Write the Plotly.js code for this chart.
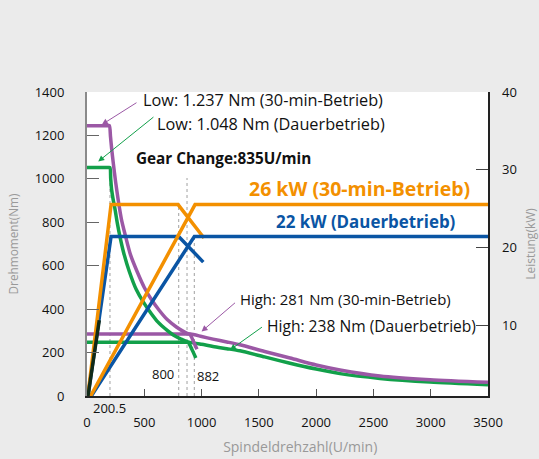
<!DOCTYPE html>
<html>
<head>
<meta charset="utf-8">
<script src="https://cdn.plot.ly/plotly-3.0.1.min.js"></script>
<style>
html,body{margin:0;padding:0;background:#ebebeb;}
#chart{width:539px;height:459px;}
</style>
</head>
<body>
<div id="chart"></div>
<script>
// ---- data ----
// Torque curves (Nm) vs spindle speed (U/min)
const lowT30X = [0, 180, 195, 205, 215, 230, 250, 273, 300, 332, 380, 440, 500, 565, 630, 700, 780, 860, 899, 930, 960];
const lowT30Y = [1245, 1245, 1245, 1195, 1140, 1070, 985, 900, 815, 745, 650, 570, 500, 442, 395, 352, 318, 292, 283, 250, 215];
const lowTdX  = [0, 185, 200, 207, 215, 230, 244, 265, 288, 320, 370, 430, 492, 560, 620, 700, 753, 820, 884, 915, 950];
const lowTdY  = [1052, 1052, 1052, 1000, 950, 900, 862, 795, 733, 660, 572, 490, 432, 380, 340, 302, 281, 262, 247, 215, 175];
const highT30X = [0, 880, 905, 1000, 1100, 1220, 1335, 1550, 1772, 2000, 2208, 2557, 2994, 3500];
const highT30Y = [285, 285, 285, 274, 262, 249, 236, 205, 175, 143, 120, 92, 75, 63];
const highTdX  = [0, 875, 900, 1000, 1100, 1220, 1335, 1550, 1772, 2000, 2208, 2557, 2994, 3500];
const highTdY  = [247, 247, 247, 238, 228, 218, 208, 180, 151, 124, 103, 81, 64, 52];
// Power curves (kW)
const lowP30X = [0, 210, 795, 1021];
const lowP30Y = [0, 25.5, 25.5, 21.2];
const lowPdX  = [0, 210, 800, 1015];
const lowPdY  = [0, 21.4, 21.4, 18.1];
const highP30X = [0, 943, 3500];
const highP30Y = [0, 25.5, 25.5];
const highPdX  = [0, 937, 3500];
const highPdY  = [0, 21.4, 21.4];
const overlapX = [0, 107];
const overlapY = [0, 10.6];
// Reference (dotted) speeds and their heights (Nm)
const refSpeeds = [200.5, 800, 873, 937];
const refTops   = [1030, 889, 1004, 732];
// Tick values
const xTicks  = [0, 500, 1000, 1500, 2000, 2500, 3000, 3500];
const yTicks  = [0, 200, 400, 600, 800, 1000, 1200, 1400];
const y2Ticks = [10, 20, 30, 40];

const PURPLE = '#9b58a5', GREEN = '#12a04a', ORANGE = '#f39000', BLUE = '#0a55a4';
const LW = 3.5;
const traces = [];
refSpeeds.forEach((s, i) => {
  traces.push({x: [s, s], y: [0, refTops[i]], mode: 'lines', yaxis: 'y',
    line: {color: '#b0b0b0', width: 1.2, dash: 'dot'}, hoverinfo: 'skip'});
});
function ln(x, y, c, ax, smooth) {
  const line = {color: c, width: LW};
  if (smooth) { line.shape = 'spline'; line.smoothing = 0.7; }
  traces.push({x: x, y: y, mode: 'lines', yaxis: ax, line: line});
}
ln(highTdX, highTdY, GREEN, 'y', true);
ln(highT30X, highT30Y, PURPLE, 'y', true);
ln(lowTdX, lowTdY, GREEN, 'y', true);
ln(lowT30X, lowT30Y, PURPLE, 'y', true);
ln(lowPdX, lowPdY, BLUE, 'y2');
ln(lowP30X, lowP30Y, ORANGE, 'y2');
ln(highPdX, highPdY, BLUE, 'y2');
ln(highP30X, highP30Y, ORANGE, 'y2');
ln(overlapX, overlapY, '#102a18', 'y2');

const F = 'Open Sans, Noto Sans, sans-serif';
function txt(t, x, y, size, color, bold, anchor) {
  return {text: bold ? '<b>' + t + '</b>' : t, x: x, y: y, xref: 'x', yref: 'y',
    xanchor: anchor || 'left', yanchor: 'middle', showarrow: false,
    font: {family: F, size: size, color: color}};
}
function arr(x0, y0, x1, y1, color) {
  return {text: '', x: x1, y: y1, ax: x0, ay: y0, xref: 'x', yref: 'y', axref: 'x', ayref: 'y',
    showarrow: true, arrowhead: 2, arrowsize: 1.2, arrowwidth: 1, arrowcolor: color};
}
const annotations = [
  txt('Low: 1.237 Nm (30-min-Betrieb)', 471, 1363, 16.3, '#111'),
  arr(445, 1355, 130, 1250, PURPLE),
  txt('Low: 1.048 Nm (Dauerbetrieb)', 593, 1254, 16.3, '#111'),
  arr(593, 1290, 98, 1080, GREEN),
  txt('Gear Change:835U/min', 410, 1094, 15.3, '#111', true),
  txt('26 kW (30-min-Betrieb)', 1396, 954, 19.5, ORANGE, true),
  txt('22 kW (Dauerbetrieb)', 1632, 805, 16.9, BLUE, true),
  txt('High: 281 Nm (30-min-Betrieb)', 1318, 447, 14.9, '#111'),
  arr(1305, 435, 1000, 297, PURPLE),
  txt('High: 238 Nm (Dauerbetrieb)', 1554, 322, 15.6, '#111'),
  arr(1540, 322, 1248, 212, GREEN),
  txt('800', 662, 101, 13, '#111', false, 'center'),
  txt('882', 1055, 92, 13, '#111', false, 'center'),
  {text: '200.5', x: 0.0549, y: -0.0395, xref: 'paper', yref: 'paper', xanchor: 'center',
    yanchor: 'middle', showarrow: false, font: {family: F, size: 13, color: '#111'}}
];

const NB = '&nbsp;'.repeat(7);
const layout = {
  width: 539, height: 459,
  paper_bgcolor: '#ebebeb', plot_bgcolor: '#ffffff',
  margin: {l: 87, r: 51, t: 92, b: 63},
  showlegend: false,
  font: {family: F, size: 13, color: '#111'},
  xaxis: {range: [0, 3500], tickvals: xTicks, ticks: 'inside', ticklen: 7, tickcolor: '#555',
    showgrid: false, zeroline: false, showline: true, linecolor: '#222', linewidth: 1.5,
    ticklabelstandoff: 14, tickfont: {size: 13},
    title: {text: NB + 'Spindeldrehzahl(U/min)', font: {size: 14, color: '#999'}, standoff: 12}},
  yaxis: {range: [0, 1400], tickvals: yTicks, ticks: 'inside', ticklen: 12, tickcolor: '#666',
    showgrid: false, zeroline: false, showline: true, linecolor: '#8a8a8a', linewidth: 2,
    ticklabelstandoff: 18, tickfont: {size: 13},
    title: {text: 'Drehmoment(Nm)', font: {size: 11.8, color: '#999'}, standoff: 14}},
  yaxis2: {range: [0.86, 40], tickvals: y2Ticks, overlaying: 'y', side: 'right', ticks: 'inside',
    ticklen: 12, tickcolor: '#444', showgrid: false, zeroline: false, showline: true,
    linecolor: '#222', linewidth: 1.5, ticklabelstandoff: 10, tickfont: {size: 13},
    title: {text: 'Leistung(kW)', font: {size: 12, color: '#999'}, standoff: 18}},
  annotations: annotations
};
Plotly.newPlot('chart', traces, layout, {displayModeBar: false, staticPlot: true});
</script>
</body>
</html>
